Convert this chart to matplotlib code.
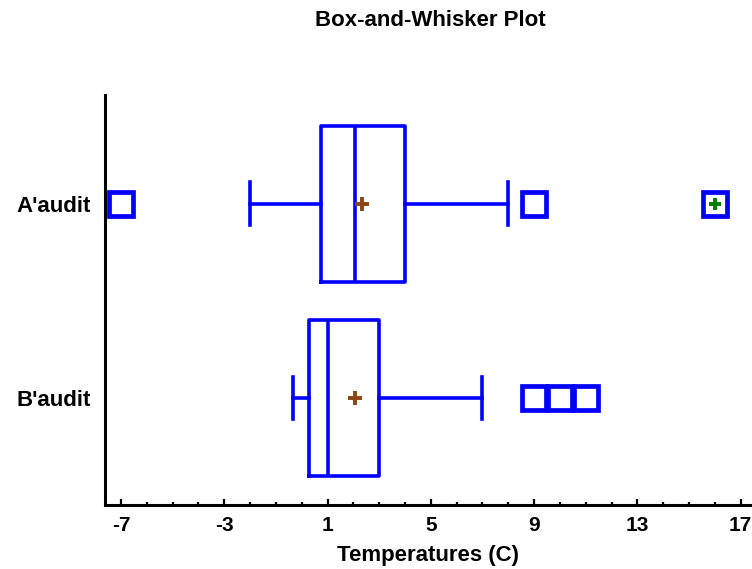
import matplotlib
matplotlib.use('Agg')
import matplotlib.pyplot as plt
from matplotlib.ticker import MultipleLocator

plt.rcParams['font.family'] = ['Liberation Sans', 'DejaVu Sans']
plt.rcParams['font.weight'] = 'bold'
plt.rcParams['axes.unicode_minus'] = False

# datos
grupos = ["B'audit", "A'audit"]
q1 = [0.3, 0.75]
mediana = [1.0, 2.05]
q3 = [3.0, 4.0]
bigote_bajo = [-0.35, -2.0]
bigote_alto = [7.0, 8.0]
media = [2.05, 2.35]
atipicos = [[9.0, 10.0, 11.0], [-7.0, 9.0, 16.0]]
muy_lejos_A = [16.0]

azul = '#0000ff'

fig = plt.figure(figsize=(7.52, 5.69), dpi=100)
ax = fig.add_axes([0.1396, 0.1125, 0.859, 0.7206])

stats = []
for i in range(len(grupos)):
    stats.append({'label': grupos[i], 'q1': q1[i], 'med': mediana[i], 'q3': q3[i],
                  'whislo': bigote_bajo[i], 'whishi': bigote_alto[i],
                  'mean': media[i], 'fliers': atipicos[i]})

ax.bxp(stats, positions=[1, 2], widths=0.8, orientation='horizontal',
       showmeans=True, capwidths=0.22,
       boxprops=dict(color=azul, lw=2.6),
       medianprops=dict(color=azul, lw=2.6),
       whiskerprops=dict(color=azul, lw=2.6),
       capprops=dict(color=azul, lw=2.6),
       meanprops=dict(marker='+', markersize=10.5, markeredgewidth=2.8,
                      markeredgecolor='#8b4513'),
       flierprops=dict(marker='s', markersize=17, markerfacecolor='white',
                       markeredgecolor=azul, markeredgewidth=3.4))

ax.plot(muy_lejos_A, [2] * len(muy_lejos_A), '+', color='#008000',
        markersize=9, markeredgewidth=2.8, zorder=5)

ax.set_xlim(-7.62, 17.4)
ax.set_ylim(0.45, 2.56)
ax.xaxis.set_minor_locator(MultipleLocator(1))
ax.set_xticks([-7, -3, 1, 5, 9, 13, 17])

for lado in ['top', 'right']:
    ax.spines[lado].set_visible(False)
for lado in ['left', 'bottom']:
    ax.spines[lado].set_linewidth(2.2)

ax.tick_params(axis='x', which='major', direction='in', length=4, width=1.6,
               labelsize=15, pad=8)
ax.tick_params(axis='x', which='minor', direction='in', length=2, width=1.6)
ax.tick_params(axis='y', length=0, labelsize=16, pad=10)
for t in ax.get_xticklabels() + ax.get_yticklabels():
    t.set_fontweight('bold')

ax.set_xlabel('Temperatures (C)', fontsize=16, fontweight='bold', va='baseline')
ax.xaxis.set_label_coords(0.5, -0.1366)
fig.text(0.572, 0.9543, 'Box-and-Whisker Plot', ha='center', va='baseline',
         fontsize=16, fontweight='bold')

fig.savefig('out.png', dpi=100)
